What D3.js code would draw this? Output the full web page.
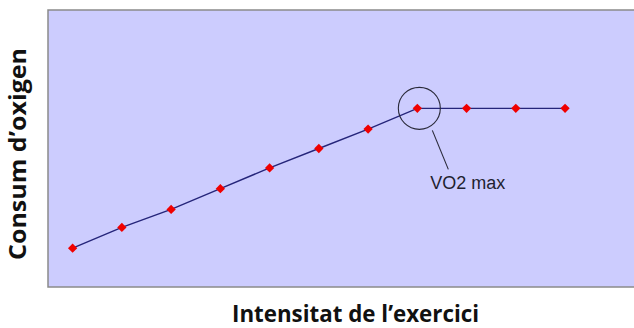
<!DOCTYPE html>
<html>
<head>
<meta charset="utf-8">
<script src="https://cdn.jsdelivr.net/npm/d3@7"></script>
<style>
  body { margin: 0; background: #fff; }
</style>
</head>
<body>
<svg id="canvas"></svg>
<script>
// intensity steps and oxygen consumption (arbitrary units)
const intensity = [1, 2, 3, 4, 5, 6, 7, 8, 9, 10, 11];
const oxygen = [14, 21.5, 28, 35.5, 43, 50, 57, 64.5, 64.5, 64.5, 64.5];
const vo2Index = 7;
const vo2Label = "VO2 max";
const xTitle = "Intensitat de l\u2019exercici";
const yTitle = "Consum d\u2019oxigen";

const width = 634;
const height = 328;
const margin = { top: 10, right: 0, bottom: 41, left: 48 };
const innerWidth = width - margin.left - margin.right;
const innerHeight = height - margin.top - margin.bottom;

const svg = d3.select("#canvas").attr("width", width).attr("height", height);

const xScale = d3.scaleLinear().domain([0.5, 12.4]).range([0, innerWidth]);
const yScale = d3.scaleLinear().domain([0, 100]).range([innerHeight, 0]);

const mainGroup = svg.append("g").attr("transform", `translate(${margin.left}, ${margin.top})`);

// plot background
mainGroup.append("rect")
    .attr("width", innerWidth + 2)
    .attr("height", innerHeight)
    .attr("fill", "#ccccfe");

// border on top, left, bottom
mainGroup.append("path")
    .attr("d", `M${innerWidth + 2},0H0V${innerHeight}H${innerWidth + 2}`)
    .attr("fill", "none")
    .attr("stroke", "#8a8a8a")
    .attr("stroke-width", 1.5);

const data = intensity.map((x, i) => ({ x: x, y: oxygen[i] }));

const line = d3.line().x(d => xScale(d.x)).y(d => yScale(d.y));
mainGroup.append("path")
    .datum(data)
    .attr("d", line)
    .attr("fill", "none")
    .attr("stroke", "#25257a")
    .attr("stroke-width", 1.4);

mainGroup.selectAll(".marker")
    .data(data)
    .join("path")
    .attr("class", "marker")
    .attr("d", d3.symbol(d3.symbolDiamond2, 55))
    .attr("transform", d => `translate(${xScale(d.x)}, ${yScale(d.y)})`)
    .attr("fill", "#f00000");

// VO2 max annotation
const peak = data[vo2Index];
const cx = xScale(peak.x) + 2;
const cy = yScale(peak.y);
const r = 21;
mainGroup.append("circle")
    .attr("cx", cx)
    .attr("cy", cy)
    .attr("r", r)
    .attr("fill", "none")
    .attr("stroke", "#2a2a3a")
    .attr("stroke-width", 1.1);

mainGroup.append("line")
    .attr("x1", cx + 13)
    .attr("y1", cy + 22)
    .attr("x2", cx + 29)
    .attr("y2", cy + 61)
    .attr("stroke", "#2a2a3a")
    .attr("stroke-width", 1.1);

mainGroup.append("text")
    .attr("x", cx + 11)
    .attr("y", cy + 81)
    .attr("fill", "#1f1f30")
    .style("font-family", "Liberation Sans, Arial, sans-serif")
    .style("font-size", "18px")
    .text(vo2Label);

// axis titles
svg.append("text")
    .attr("x", 232)
    .attr("y", 322)
    .attr("fill", "#111")
    .attr("textLength", 247)
    .attr("lengthAdjust", "spacingAndGlyphs")
    .style("font-family", "Open Sans, sans-serif")
    .style("font-weight", "bold")
    .style("font-size", "22.5px")
    .text(xTitle);

svg.append("text")
    .attr("transform", "translate(26, 260) rotate(-90)")
    .attr("fill", "#111")
    .attr("textLength", 212)
    .attr("lengthAdjust", "spacingAndGlyphs")
    .style("font-family", "Open Sans, sans-serif")
    .style("font-weight", "bold")
    .style("font-size", "22.5px")
    .text(yTitle);
</script>
</body>
</html>
